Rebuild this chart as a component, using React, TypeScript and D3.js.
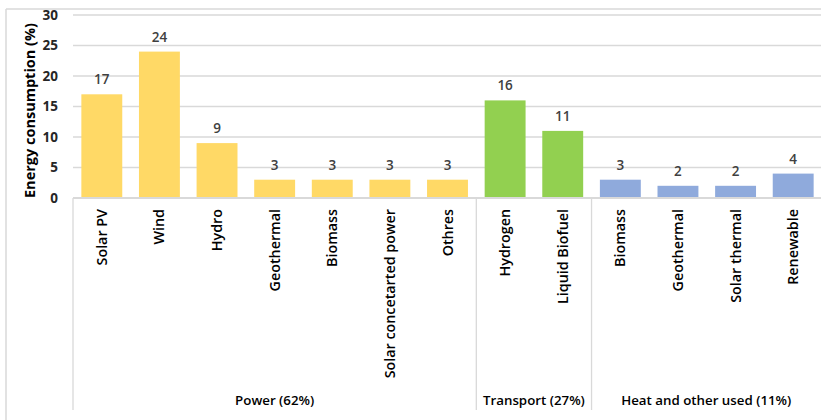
import React from "react";
import * as d3 from "d3";

const categories = [
  "Solar PV",
  "Wind",
  "Hydro",
  "Geothermal",
  "Biomass",
  "Solar concetarted power",
  "Othres",
  "Hydrogen",
  "Liquid Biofuel",
  "Biomass",
  "Geothermal",
  "Solar thermal",
  "Renewable",
];
const values = [17, 24, 9, 3, 3, 3, 3, 16, 11, 3, 2, 2, 4];
const groups = [
  { name: "Power (62%)", count: 7, color: "#FFD966" },
  { name: "Transport (27%)", count: 2, color: "#92D050" },
  { name: "Heat and other used (11%)", count: 4, color: "#8FAADC" },
];
const yTicks = [0, 5, 10, 15, 20, 25, 30];

const W = 821;
const H = 420;
const margin = { left: 73, right: -1, top: 15, bottom: 222 };
const FONT = "'Open Sans', sans-serif";

export default function App() {
  const x = d3
    .scaleBand<number>()
    .domain(d3.range(categories.length))
    .range([margin.left, W - margin.right])
    .paddingInner(0.29)
    .paddingOuter(0.145);
  const y = d3
    .scaleLinear()
    .domain([0, 30])
    .range([H - margin.bottom, margin.top]);

  const step = x.step();
  const x0 = margin.left;
  const y0 = y(0);

  // group color per bar + group bounds
  const barColor: string[] = [];
  const bounds: { name: string; start: number; end: number }[] = [];
  let idx = 0;
  groups.forEach((g) => {
    const start = x0 + idx * step;
    for (let i = 0; i < g.count; i++) barColor.push(g.color);
    idx += g.count;
    bounds.push({ name: g.name, start, end: x0 + idx * step });
  });

  return (
    <div style={{ position: "absolute", left: 0, top: 0 }}>
      <svg width={W} height={H} style={{ display: "block", fontFamily: FONT }}>
        <rect width={W} height={H} fill="#fff" />
        {/* chart frame */}
        <line x1={6} x2={W} y1={9} y2={9} stroke="#d9d9d9" strokeWidth={1.5} />
        <line x1={6} x2={6} y1={9} y2={H} stroke="#d9d9d9" strokeWidth={1.5} />

        {/* gridlines */}
        {yTicks.map((t) => (
          <line
            key={t}
            x1={x0}
            x2={W}
            y1={y(t)}
            y2={y(t)}
            stroke="#d9d9d9"
            strokeWidth={1.3}
          />
        ))}

        {/* y ticks */}
        {yTicks.map((t) => (
          <text
            key={"t" + t}
            x={58}
            y={y(t)}
            dy="0.35em"
            textAnchor="end"
            fontSize={13.5}
            fontWeight="bold"
            fill="#262626"
          >
            {t}
          </text>
        ))}

        <text
          transform={`translate(30,${(y(30) + y(0)) / 2 + 4}) rotate(-90)`}
          textAnchor="middle"
          dy="0.35em"
          fontSize={14.5}
          fontWeight="bold"
          fill="#000"
        >
          Energy consumption (%)
        </text>

        {/* bars */}
        {values.map((v, i) => (
          <g key={i}>
            <rect
              x={x(i)}
              y={y(v)}
              width={x.bandwidth()}
              height={y0 - y(v)}
              fill={barColor[i]}
            />
            <text
              x={(x(i) ?? 0) + x.bandwidth() / 2}
              y={y(v) - 10}
              textAnchor="middle"
              fontSize={13.5}
              fontWeight={600}
              fill="#404040"
            >
              {v}
            </text>
          </g>
        ))}

        {/* category axis */}
        <line x1={x0} x2={W} y1={y0} y2={y0} stroke="#d9d9d9" strokeWidth={2} />
        <line x1={x0} x2={x0} y1={y0} y2={410} stroke="#d9d9d9" strokeWidth={1.3} />
        {bounds.map((b) => (
          <line
            key={"b" + b.name}
            x1={b.end}
            x2={b.end}
            y1={y0}
            y2={410}
            stroke="#d9d9d9"
            strokeWidth={1.3}
          />
        ))}
        {categories.map((c, i) => (
          <text
            key={"c" + i}
            transform={`translate(${(x(i) ?? 0) + x.bandwidth() / 2},209) rotate(-90)`}
            dy="0.35em"
            textAnchor="end"
            fontSize={14.3}
            fontWeight={600}
            fill="#000"
          >
            {c}
          </text>
        ))}
        {bounds.map((b) => (
          <text
            key={"g" + b.name}
            x={(b.start + Math.min(b.end, W)) / 2}
            y={400}
            dy="0.35em"
            textAnchor="middle"
            fontSize={13.3}
            fontWeight={600}
            fill="#000"
          >
            {b.name}
          </text>
        ))}
      </svg>
    </div>
  );
}
